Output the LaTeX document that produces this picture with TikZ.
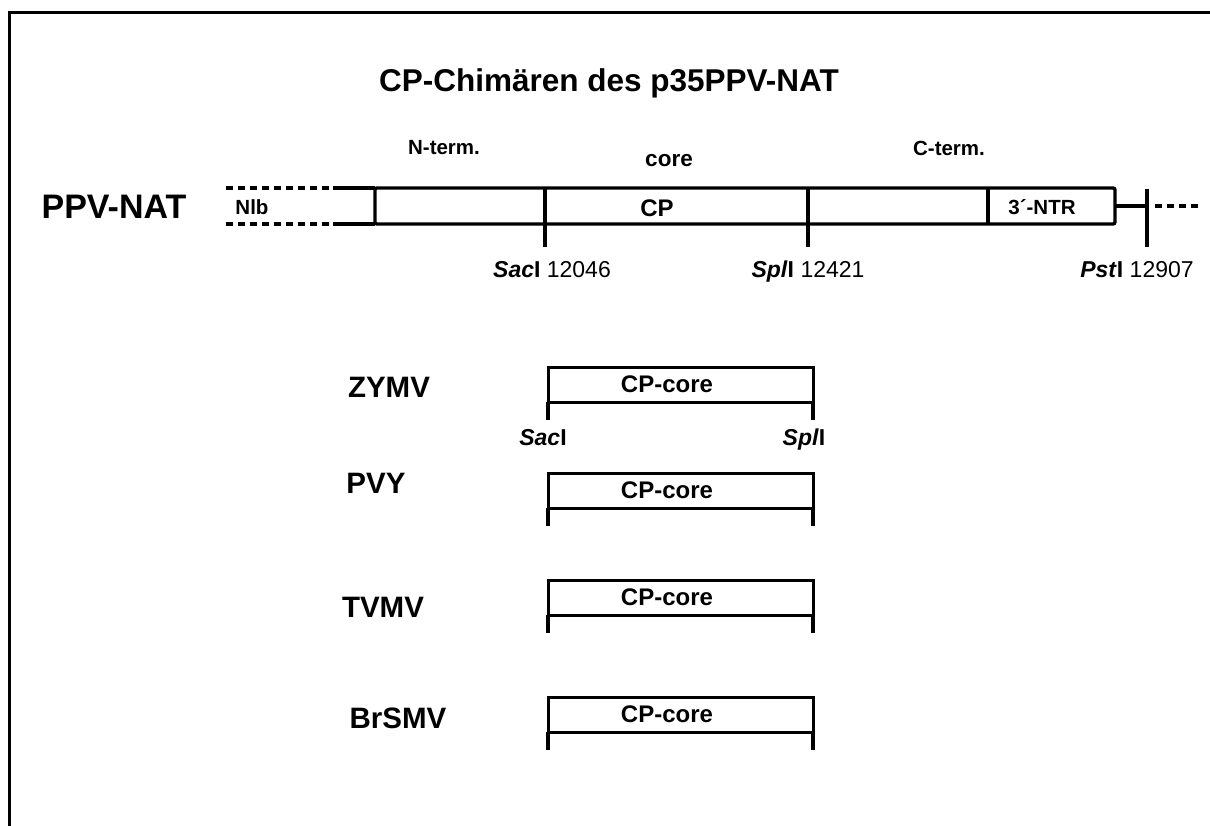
\documentclass[tikz,border=0pt]{standalone}
\usepackage{fontspec}
\setmainfont{Liberation Sans}
\usetikzlibrary{calc}

\begin{document}
\begin{tikzpicture}[x=1pt,y=-1pt,
  virus/.style={font=\bfseries\fontsize{29.5}{34}\selectfont,anchor=base},
  seg/.style={font=\bfseries\fontsize{24}{28}\selectfont,anchor=base},
  small/.style={font=\bfseries\fontsize{20.5}{24}\selectfont,anchor=base},
  site/.style={font=\fontsize{23}{27}\selectfont,anchor=base},
  bar/.style={line width=3.4pt},
  dashbar/.style={line width=3.4pt,dash pattern=on 7pt off 5pt}]
  \useasboundingbox (0,0) rectangle (1210,826);
  % frame
  \draw[line width=3pt] (9,826) -- (9,12.5) -- (1210,12.5);
  \node[anchor=base,font=\bfseries\fontsize{31.5}{36}\selectfont] (title) at (609,92) {CP-Chimären des p35PPV-NAT};
  % genome map
  \node[font=\bfseries\fontsize{34}{40}\selectfont,anchor=base] (ppv) at (114,219) {PPV-NAT};
  \draw[dashbar] (226,188) -- (333,188);
  \draw[dashbar] (226,224) -- (333,224);
  \draw[bar] (333,188) -- (375,188);
  \draw[bar] (333,224) -- (375,224);
  \draw[bar,rounded corners=2pt] (375,188) rectangle (1115,224);
  \draw[bar] (545,188) -- (545,247);
  \draw[bar] (808,188) -- (808,247);
  \draw[bar] (988,188) -- (988,224);
  \draw[bar] (1115,206) -- (1147,206);
  \draw[bar,line width=4pt] (1147,189) -- (1147,247);
  \draw[dashbar] (1155,206) -- (1202,206);
  \node[small] (nlb) at (252,215) {Nlb};
  \node[seg] (cp) at (657,217) {CP};
  \node[small] (ntr) at (1042,215) {3´-NTR};
  \node[small] (nterm) at (444,155) {N-term.};
  \node[seg,font=\bfseries\fontsize{22.5}{26}\selectfont] (core) at (669,167) {core};
  \node[small] (cterm) at (949,156) {C-term.};
  \node[site] (sac) at (552,278) {\textbf{\textit{Sac}I} 12046};
  \node[site] (spl) at (808,278) {\textbf{\textit{Spl}I} 12421};
  \node[site] (pst) at (1137,278) {\textbf{\textit{Pst}I} 12907};
  % chimeras
  \foreach \v/\y/\x/\b in {ZYMV/367/389/30,PVY/473/376/20,TVMV/580/383/37,BrSMV/697/398/31}{
    \node[virus] (\v) at (\x,\y+\b) {\v};
    \draw[line width=3pt] (548,\y+35) -- (548,\y) -- (813,\y) -- (813,\y+35);
    \draw[line width=3pt] (548,\y+35) -- (813,\y+35);
    \draw[line width=4pt] (548,\y+35) -- (548,\y+53);
    \draw[line width=4pt] (813,\y+35) -- (813,\y+53);
    \node[seg] (core-\v) at (667,\y+25) {CP-core};
  }
  \node[site,font=\bfseries\fontsize{23}{27}\selectfont] (sacz) at (543,445) {\textit{Sac}I};
  \node[site,font=\bfseries\fontsize{23}{27}\selectfont] (splz) at (804,445) {\textit{Spl}I};
\end{tikzpicture}
\end{document}
